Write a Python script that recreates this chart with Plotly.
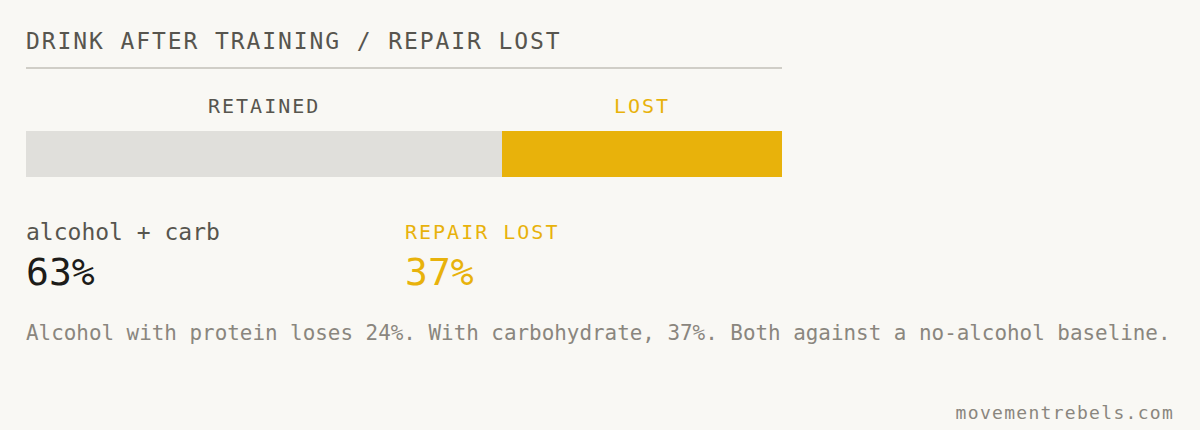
import plotly.graph_objects as go

# values
segments = ['RETAINED', 'LOST']
shares = [63, 37]
seg_colors = ['#e0dfdb', '#e8b20b']
label_colors = ['#57554e', '#e8b20b']

title = 'DRINK AFTER TRAINING / REPAIR LOST'
left_caption = 'alcohol + carb'
right_caption = 'REPAIR LOST'
caption = ('Alcohol with protein loses 24%. With carbohydrate, 37%. '
           'Both against a no-alcohol baseline.')
source = 'movementrebels.com'

W, H = 1200, 430
BG = '#f9f8f4'
MONO = 'DejaVu Sans Mono'


def px(x):
    return x / W


def py(y):
    return 1 - y / H


fig = go.Figure()
for name, val, col in zip(segments, shares, seg_colors):
    fig.add_trace(go.Bar(
        y=['a'], x=[val], orientation='h', name=name,
        marker=dict(color=col, line=dict(width=0)),
        hoverinfo='skip'
    ))

ann = []
# segment labels centred over each part of the bar
start = 0
for name, val, col in zip(segments, shares, label_colors):
    ann.append(dict(x=start + val / 2, xref='x', y=py(106), yref='paper',
                    text=name, showarrow=False, xanchor='center',
                    yanchor='middle', font=dict(size=20, color=col)))
    start += val

ann += [
    dict(x=px(26), y=py(41), text=title,
         font=dict(size=23, color='#57554e')),
    dict(x=px(26), y=py(232), text=left_caption,
         font=dict(size=23, color='#57554e')),
    dict(x=px(26), y=py(272), text=f'{shares[0]}%',
         font=dict(size=38, color='#1d1c19')),
    dict(x=px(405), y=py(232), text=right_caption,
         font=dict(size=20, color=seg_colors[1])),
    dict(x=px(405), y=py(272), text=f'{shares[1]}%',
         font=dict(size=38, color=seg_colors[1])),
    dict(x=px(26), y=py(333), text=caption,
         font=dict(size=20.9, color='#8a867e')),
]
for a in ann[len(segments):]:
    a.update(xref='paper', yref='paper', showarrow=False,
             xanchor='left', yanchor='middle', align='left')
ann.append(dict(x=px(1174), y=py(412), xref='paper', yref='paper',
                text=source, showarrow=False, xanchor='right',
                yanchor='middle', align='right',
                font=dict(size=18, color='#8a867e')))
for a in ann:
    a.update(borderpad=0, borderwidth=0)

fig.update_layout(
    width=W, height=H,
    barmode='stack', bargap=0, showlegend=False,
    paper_bgcolor=BG, plot_bgcolor=BG,
    margin=dict(l=0, r=0, t=0, b=0),
    font=dict(family=MONO),
    annotations=ann,
    shapes=[dict(type='line', xref='paper', yref='paper',
                 x0=px(26), x1=px(782), y0=py(68), y1=py(68),
                 line=dict(color='#d0cec7', width=2))],
    xaxis=dict(range=[0, sum(shares)], domain=[px(26), px(782)],
               visible=False, fixedrange=True),
    yaxis=dict(domain=[py(177), py(131)], visible=False, fixedrange=True),
)

# no page margin + letter spacing on the upper-case labels
extra_js = """
document.body.style.margin = '0';
document.body.style.background = '#f9f8f4';
var gd = document.getElementById('{plot_id}');
var sp = {'DRINK AFTER TRAINING / REPAIR LOST': '1.9px', 'RETAINED': '2px',
          'LOST': '2px', 'REPAIR LOST': '2px', 'movementrebels.com': '1.3px'};
gd.querySelectorAll('.annotation-text').forEach(function(t) {
  if (sp[t.textContent]) { t.style.letterSpacing = sp[t.textContent]; }
});
"""

fig.write_html('out.html', post_script=extra_js,
               config={'displayModeBar': False, 'staticPlot': True})
